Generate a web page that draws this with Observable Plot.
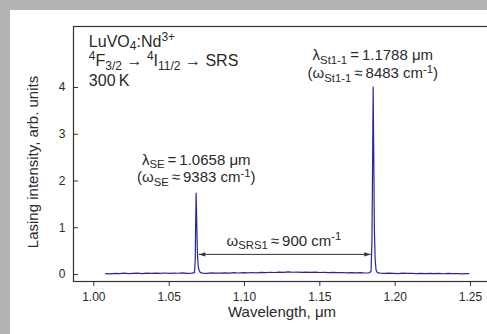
<!DOCTYPE html>
<html><head><meta charset="utf-8">
<script src="https://cdn.jsdelivr.net/npm/d3@7"></script>
<script src="https://cdn.jsdelivr.net/npm/@observablehq/plot@0.6"></script>
<style>
html,body{margin:0;padding:0;background:#b3b3b3;overflow:hidden;width:487px;height:334px;}
#panel{position:absolute;left:10px;top:10px;width:477px;height:324px;background:#fff;overflow:hidden;}
#panel svg{display:block;max-width:none !important;width:480px;height:324px !important;}
</style></head>
<body><div id="panel"></div>
<script>
// Spectrum (wavelength in µm, lasing intensity in arb. units)
const wavelength = [
  1.0078, 1.0110, 1.0140, 1.0170, 1.0200, 1.0230, 1.0260, 1.0290, 1.0320, 1.0350,
  1.0380, 1.0410, 1.0440, 1.0470, 1.0500, 1.0530, 1.0560, 1.0590, 1.0620, 1.0650,
  1.0668, 1.0673, 1.0676, 1.0679, 1.0683, 1.0687, 1.0692, 1.0698, 1.0706, 1.0720,
  1.0750, 1.0780, 1.0810, 1.0840, 1.0870, 1.0900, 1.0930, 1.0960, 1.0990, 1.1020,
  1.1050, 1.1080, 1.1110, 1.1140, 1.1170, 1.1200, 1.1230, 1.1260, 1.1290, 1.1320,
  1.1350, 1.1380, 1.1410, 1.1440, 1.1470, 1.1500, 1.1530, 1.1560, 1.1590, 1.1620,
  1.1650, 1.1680, 1.1710, 1.1740, 1.1770, 1.1800, 1.1825, 1.1840, 1.1846, 1.1850,
  1.1854, 1.1858, 1.1862, 1.1867, 1.1873, 1.1882, 1.1900, 1.1930, 1.1960, 1.1990,
  1.2020, 1.2050, 1.2080, 1.2110, 1.2140, 1.2170, 1.2200, 1.2230, 1.2260, 1.2290,
  1.2320, 1.2350, 1.2380, 1.2410, 1.2440, 1.2470, 1.2489
];
const intensity = [
  0.020, 0.015, 0.025, 0.020, 0.030, 0.018, 0.025, 0.030, 0.020, 0.028,
  0.022, 0.030, 0.025, 0.032, 0.022, 0.030, 0.026, 0.033, 0.025, 0.030,
  0.040, 0.300, 1.100, 1.740, 1.150, 0.500, 0.200, 0.090, 0.045, 0.030,
  0.025, 0.035, 0.028, 0.030, 0.036, 0.030, 0.038, 0.032, 0.040, 0.035,
  0.042, 0.036, 0.045, 0.040, 0.048, 0.042, 0.050, 0.045, 0.055, 0.048,
  0.050, 0.044, 0.052, 0.046, 0.050, 0.042, 0.046, 0.040, 0.044, 0.038,
  0.042, 0.036, 0.040, 0.034, 0.038, 0.032, 0.036, 0.060, 0.700, 2.200,
  4.010, 2.600, 1.000, 0.350, 0.100, 0.040, 0.028, 0.022, 0.030, 0.024,
  0.020, 0.028, 0.022, 0.026, 0.018, 0.025, 0.020, 0.024, 0.018, 0.022,
  0.016, 0.022, 0.018, 0.020, 0.015, 0.020, 0.018
];

const xTickValues = [1.00, 1.05, 1.10, 1.15, 1.20, 1.25];
const yTickValues = [0, 1, 2, 3, 4];
const xTitle = "Wavelength, μm";
const yTitle = "Lasing intensity, arb. units";

// Sample description block (top left; markup: _{sub}, ^{sup})
const infoText = [
  "LuVO_{4}:Nd^{3+}",
  "^{4}F_{3/2} \u2192 ^{4}I_{11/2} \u2192 SRS",
  "300\u2009K"
];
const infoX = [0.9967, 0.9967, 0.9967];
const infoY = [4.877, 4.455, 4.03];

// Line annotations (centred)
const noteText = [
  "λ_{SE}\u2009=\u20091.0658 μm",
  "(ω_{SE}\u2009≈\u20099383 cm^{-1})",
  "λ_{St1-1}\u2009=\u20091.1788 μm",
  "(ω_{St1-1}\u2009≈\u20098483 cm^{-1})",
  "ω_{SRS1}\u2009≈\u2009900 cm^{-1}"
];
const noteX = [1.0680, 1.0680, 1.1852, 1.1852, 1.1262];
const noteY = [2.347, 1.974, 4.59, 4.20, 0.62];

// Raman shift double arrow between the two lines
const arrowFrom = 1.0697;
const arrowTo = 1.1838;
const arrowLevel = 0.43;

const spectrum = wavelength.map((w, i) => ({w, v: intensity[i]}));
const info = infoText.map((t, i) => ({t, x: infoX[i], y: infoY[i]}));
const notes = noteText.map((t, i) => ({t, x: noteX[i], y: noteY[i]}));
const arrow = [{x1: arrowFrom, x2: arrowTo, y: arrowLevel}];
const heads = [{x: arrowFrom, y: arrowLevel, r: 180}, {x: arrowTo, y: arrowLevel, r: 0}];

const arrowHead = {draw(ctx) { ctx.moveTo(0, 0); ctx.lineTo(-6.5, -2.2); ctx.lineTo(-6.5, 2.2); ctx.closePath(); }};

const font = "'Liberation Sans', Arial, Helvetica, sans-serif";
const ink = "#2a2a2a";

const chart = Plot.plot({
  width: 480,
  height: 324,
  marginLeft: 63,
  marginRight: 0,
  marginTop: 16,
  marginBottom: 53,
  x: {domain: [0.9865, 1.2633]},
  y: {domain: [-0.15, 5.305]},
  style: {fontFamily: font, color: ink, background: "transparent", maxWidth: "none"},
  marks: [
    Plot.axisX({ticks: xTickValues, tickFormat: ".2f", tickSize: 5, tickPadding: 6, label: null, fontSize: 12, stroke: "#333"}),
    Plot.axisY({ticks: yTickValues, tickFormat: "d", tickSize: -5, tickPadding: 13, label: null, fontSize: 12, stroke: "#333"}),
    Plot.line(spectrum, {x: "w", y: "v", stroke: "#28289a", strokeWidth: 1.2}),
    Plot.link(arrow, {x1: "x1", x2: "x2", y1: "y", y2: "y", stroke: "#333", strokeWidth: 1}),
    Plot.dot(heads, {x: "x", y: "y", rotate: "r", symbol: arrowHead, fill: "#333", stroke: null}),
    Plot.text(info, {x: "x", y: "y", text: "t", textAnchor: "start", lineAnchor: "bottom", fontSize: 16, fill: ink}),
    Plot.text(notes, {x: "x", y: "y", text: "t", textAnchor: "middle", lineAnchor: "bottom", fontSize: 15, fill: ink}),
    Plot.text([xTitle], {text: d => d, frameAnchor: "bottom", textAnchor: "middle", dy: 35, fontSize: 15, fill: ink}),
    Plot.text([yTitle], {text: d => d, frameAnchor: "left", textAnchor: "middle", rotate: -90, dx: -40, dy: 8, fontSize: 15, fill: ink}),
    Plot.frame({stroke: "#333", strokeWidth: 1.2})
  ]
});

document.getElementById("panel").appendChild(chart);

// Render _{...} and ^{...} markup as real sub/superscript tspans
const NS = "http://www.w3.org/2000/svg";
chart.querySelectorAll("text").forEach(t => {
  const s = t.textContent;
  if (!/[_^]\{/.test(s)) return;
  const base = parseFloat(getComputedStyle(t).fontSize) || 15;
  const parts = s.split(/(_\{[^}]*\}|\^\{[^}]*\})/).filter(p => p.length);
  while (t.firstChild) t.removeChild(t.firstChild);
  let shift = 0;
  for (const p of parts) {
    const ts = document.createElementNS(NS, "tspan");
    let target = 0, txt = p, small = false;
    if (p.startsWith("_{")) { target = 0.24 * base; txt = p.slice(2, -1); small = true; }
    else if (p.startsWith("^{")) { target = -0.36 * base; txt = p.slice(2, -1); small = true; }
    if (target !== shift) ts.setAttribute("dy", (target - shift).toFixed(2));
    shift = target;
    if (small) ts.setAttribute("font-size", (0.75 * base).toFixed(1));
    ts.textContent = txt;
    t.appendChild(ts);
  }
});
</script>
</body></html>
